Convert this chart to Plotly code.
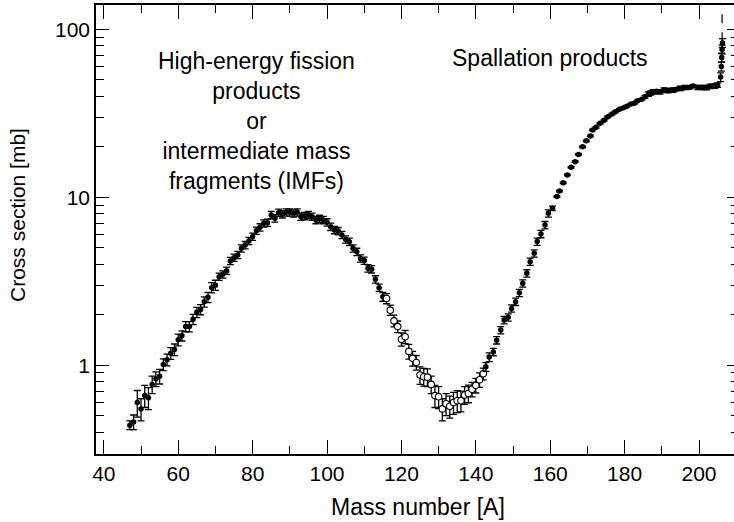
import plotly.graph_objects as go

# ---- data ----
# IMF / fission branch (filled dots)
imf_A = [47, 48, 49, 50, 51, 52, 53, 54, 55, 56, 57, 58, 59, 60, 61, 62, 63, 64, 65, 66,
         67, 68, 69, 70, 71, 72, 73, 74, 75, 76, 77, 78, 79, 80, 81, 82, 83, 84, 85, 86,
         87, 88, 89, 90, 91, 92, 93, 94, 95, 96, 97, 98, 99, 100, 101, 102, 103, 104, 105,
         106, 107, 108, 109, 110, 111, 112, 113, 114, 115]
imf_sigma = [0.44, 0.46, 0.60, 0.55, 0.66, 0.64, 0.77, 0.83, 0.86, 1.01, 1.08, 1.18, 1.24,
             1.42, 1.50, 1.70, 1.70, 1.88, 2.07, 2.15, 2.39, 2.54, 2.90, 3.00, 3.37, 3.48,
             3.66, 4.18, 4.37, 4.54, 4.97, 5.20, 5.50, 5.83, 6.33, 6.63, 7.00, 7.06, 7.85,
             7.50, 8.10, 7.93, 8.14, 8.14, 8.03, 8.14, 7.67, 7.74, 7.85, 7.67, 7.33, 7.45,
             7.33, 7.10, 6.68, 6.39, 6.30, 5.97, 5.62, 5.44, 4.97, 4.74, 4.33, 4.20, 3.78,
             3.73, 3.25, 2.90, 2.56]
imf_relerr = [0.06, 0.10, 0.18, 0.15, 0.15, 0.15, 0.12, 0.10, 0.10, 0.08, 0.08, 0.08, 0.08,
              0.08, 0.07, 0.07, 0.07, 0.07, 0.07, 0.07, 0.07, 0.07, 0.07, 0.07, 0.05, 0.05,
              0.05, 0.05, 0.05, 0.05, 0.05, 0.05, 0.05, 0.05, 0.05, 0.05, 0.05, 0.05, 0.05,
              0.05, 0.05, 0.05, 0.05, 0.05, 0.05, 0.05, 0.05, 0.05, 0.05, 0.05, 0.05, 0.05,
              0.05, 0.05, 0.05, 0.05, 0.05, 0.05, 0.05, 0.05, 0.05, 0.05, 0.05, 0.05, 0.05,
              0.05, 0.05, 0.05, 0.06]

# valley (open circles)
valley_A = [116, 117, 118, 119, 120, 121, 122, 123, 124, 125, 126, 127, 128, 129, 130,
            131, 132, 133, 134, 135, 136, 137, 138, 139, 140, 141, 142]
valley_sigma = [2.50, 2.13, 1.84, 1.70, 1.43, 1.48, 1.21, 1.10, 1.04, 0.875, 0.855, 0.85,
                0.77, 0.66, 0.65, 0.55, 0.59, 0.57, 0.60, 0.615, 0.615, 0.666, 0.68, 0.72,
                0.76, 0.82, 0.89]
valley_relerr = [0.07, 0.07, 0.08, 0.08, 0.09, 0.09, 0.10, 0.10, 0.10, 0.12, 0.12, 0.12,
                 0.12, 0.15, 0.15, 0.15, 0.15, 0.15, 0.15, 0.15, 0.14, 0.12, 0.12, 0.10,
                 0.10, 0.10, 0.08]

# spallation branch (filled dots)
spall_A = [142.7, 143.6, 144.7, 145.6, 146.7, 147.6, 148.7, 149.6, 150.7, 151.7, 152.6,
           153.7, 154.6, 155.7, 156.5, 157.5, 158.6, 159.5, 160.6, 161.8, 162.5, 163.5,
           164.6, 165.6, 166.7, 167.6, 168.7, 169.7, 170.8, 171.4, 172.3, 173.4, 174.5,
           175.5, 176.6, 177.5, 178.6, 179.7, 180.6, 181.7, 182.6, 183.5, 184.6, 185.5,
           186.4, 187.0, 187.7, 188.6, 189.5, 190.6, 191.7, 193.0, 193.9, 195.0, 196.2,
           197.5, 198.4, 199.7, 200.9, 202.0, 203.0, 204.2, 205.0, 205.8, 206.0, 206.1,
           206.2, 206.3]
spall_sigma = [0.98, 1.12, 1.20, 1.41, 1.62, 1.86, 1.93, 2.18, 2.39, 2.70, 3.07, 3.53, 4.14,
               4.64, 5.45, 6.05, 6.84, 8.03, 8.6, 10.1, 10.9, 12.2, 13.6, 15.1, 16.3, 18.0,
               20.0, 21.7, 23.2, 25.2, 26.1, 27.6, 28.8, 30.2, 31.3, 32.3, 33.4, 34.2, 34.9,
               35.9, 36.3, 37.6, 38.3, 39.7, 41.2, 41.8, 42.5, 42.8, 42.5, 43.5, 43.2, 43.5,
               44.0, 44.5, 45.1, 45.1, 46.0, 45.1, 45.1, 45.0, 45.8, 46.0, 46.6, 52.0, 60.0,
               68.0, 76.0, 83.0]
spall_relerr = [0.06, 0.06, 0.05, 0.05, 0.05, 0.05, 0.05, 0.05, 0.05, 0.05, 0.05, 0.05, 0.05,
                0.05, 0.05, 0.05, 0.05, 0.05, 0.03, 0.01, 0.01, 0.01, 0.01, 0.01, 0.01, 0.01,
                0.01, 0.01, 0.01, 0.01, 0.01, 0.01, 0.01, 0.01, 0.01, 0.01, 0.01, 0.01, 0.01,
                0.01, 0.01, 0.01, 0.01, 0.02, 0.03, 0.03, 0.03, 0.02, 0.03, 0.03, 0.03, 0.03,
                0.02, 0.03, 0.03, 0.02, 0.02, 0.03, 0.03, 0.03, 0.03, 0.03, 0.03, 0.06, 0.06,
                0.06, 0.06, 0.06]

# dashed marker line (target region)
dash_A = [206.2, 206.2]
dash_sigma = [85, 300]

x_ticks = [40, 60, 80, 100, 120, 140, 160, 180, 200]
y_ticks = [1, 10, 100]
y_ticktext = ["1", "10", "100"]
y_minor = [0.3, 0.4, 0.5, 0.6, 0.7, 0.8, 0.9, 2, 3, 4, 5, 6, 7, 8, 9,
           20, 30, 40, 50, 60, 70, 80, 90]

FONT = "Liberation Sans, Arial, Helvetica, sans-serif"

def abs_err(s, r):
    return [a * b for a, b in zip(s, r)]

fig = go.Figure()

err_style = dict(type="data", thickness=1.3, width=3.5, color="black")

fig.add_trace(go.Scatter(
    x=imf_A, y=imf_sigma, mode="markers",
    marker=dict(symbol="circle", size=5.5, color="black"),
    error_y=dict(array=abs_err(imf_sigma, imf_relerr), **err_style),
    showlegend=False, hoverinfo="x+y"))

fig.add_trace(go.Scatter(
    x=valley_A, y=valley_sigma, mode="markers",
    marker=dict(symbol="circle", size=6.5, color="white", line=dict(color="black", width=1.1)),
    error_y=dict(array=abs_err(valley_sigma, valley_relerr), **err_style),
    showlegend=False, hoverinfo="x+y"))

fig.add_trace(go.Scatter(
    x=spall_A, y=spall_sigma, mode="markers",
    marker=dict(symbol="circle", size=5.5, color="black"),
    error_y=dict(array=abs_err(spall_sigma, spall_relerr), **err_style),
    showlegend=False, hoverinfo="x+y"))

fig.add_trace(go.Scatter(
    x=dash_A, y=dash_sigma, mode="lines",
    line=dict(color="black", width=1.2, dash="dash"),
    showlegend=False, hoverinfo="skip"))

# invisible trace to carry the right-hand tick axis
fig.add_trace(go.Scatter(
    x=[imf_A[0]], y=[imf_sigma[0]], yaxis="y2", mode="markers",
    marker=dict(opacity=0), showlegend=False, hoverinfo="skip"))

fig.update_layout(
    width=734, height=522,
    margin=dict(l=96, r=0, t=5, b=68),
    paper_bgcolor="white", plot_bgcolor="white",
    font=dict(family=FONT, size=21, color="black"),
    xaxis=dict(
        range=[37.9, 209.4], tickvals=x_ticks,
        ticks="inside", ticklen=14, tickwidth=1.3, tickcolor="black",
        showline=True, linecolor="black", linewidth=1.5, mirror="ticks",
        showgrid=False, zeroline=False,
        tickfont=dict(size=21),
        minor=dict(dtick=10, tick0=0, ticks="inside", ticklen=8, tickwidth=1.3, tickcolor="black"),
    ),
    yaxis=dict(
        type="log", range=[-0.528, 2.145],
        tickvals=y_ticks, ticktext=y_ticktext,
        ticks="inside", ticklen=13, tickwidth=1.3, tickcolor="black",
        showline=True, linecolor="black", linewidth=1.5, mirror=False,
        showgrid=False, zeroline=False,
        tickfont=dict(size=21),
        minor=dict(tickvals=y_minor, ticks="inside", ticklen=8, tickwidth=1.3, tickcolor="black"),
    ),
    yaxis2=dict(
        type="log", range=[-0.528, 2.145], overlaying="y", side="right", anchor="x",
        tickvals=y_ticks, showticklabels=False,
        ticks="inside", ticklen=7, tickwidth=1.3, tickcolor="black",
        showline=False, showgrid=False, zeroline=False,
        minor=dict(tickvals=y_minor, ticks="inside", ticklen=3.5, tickwidth=1.3, tickcolor="black"),
    ),
    annotations=[
        dict(text="High-energy fission<br>products<br>or<br>intermediate mass<br>fragments (IMFs)",
             x=0.2508, y=0.742, xref="paper", yref="paper", showarrow=False,
             xanchor="center", yanchor="middle", align="center", font=dict(size=23)),
        dict(text="Spallation products", x=0.7116, y=0.883, xref="paper", yref="paper",
             showarrow=False, xanchor="center", yanchor="middle", font=dict(size=23)),
        dict(text="Mass number [A]", x=0.5047, y=-0.118, xref="paper", yref="paper",
             showarrow=False, xanchor="center", yanchor="middle", font=dict(size=23)),
        dict(text="Cross section [mb]", x=-0.1223, y=0.5323, xref="paper", yref="paper",
             showarrow=False, xanchor="center", yanchor="middle", textangle=-90,
             font=dict(size=21)),
    ],
)

fig.write_html("out.html",
               config={"displayModeBar": False},
               post_script="document.body.style.margin='0px';document.body.style.overflow='hidden';")
